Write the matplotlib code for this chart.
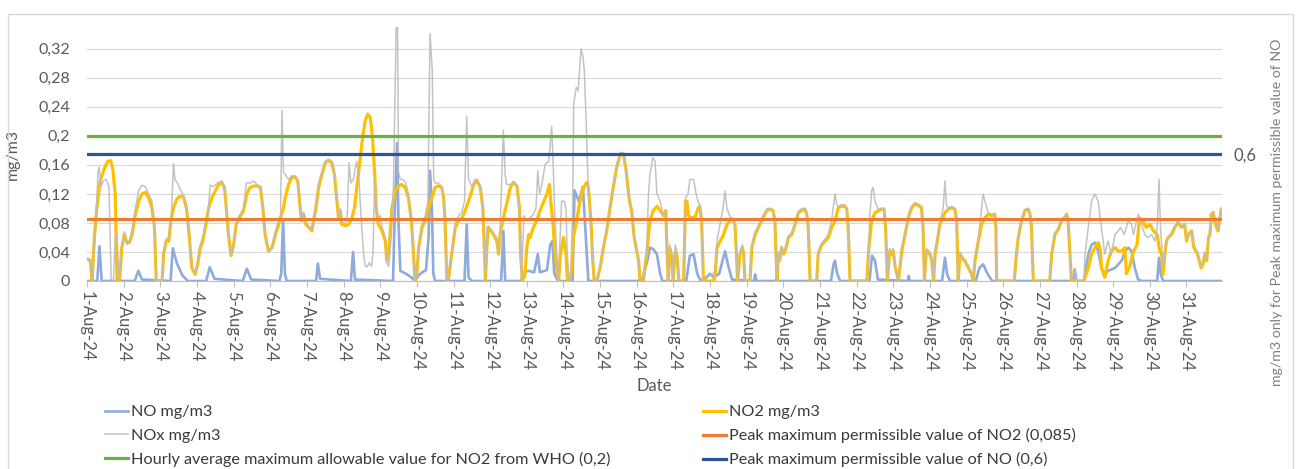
import matplotlib
matplotlib.use("Agg")
import matplotlib.pyplot as plt
from matplotlib.patches import Rectangle
from matplotlib.ticker import FuncFormatter

plt.rcParams["font.family"] = ["Lato", "DejaVu Sans"]

# x positions are in days of August 2024 (1.0 = 1-Aug 00:00)
days = list(range(1, 32))
day_labels = [f"{d}-Aug-24" for d in days]

# NO, mg/m3 (day, value)
no_pts = [
    (1.00, 0.0), (1.28, 0.0), (1.34, 0.048), (1.40, 0.0), (2.30, 0.0), (2.40, 0.014), (2.50, 0.002),
    (3.28, 0.0), (3.34, 0.045), (3.45, 0.025), (3.60, 0.008), (3.75, 0.0), (4.25, 0.0), (4.35, 0.019),
    (4.48, 0.003), (5.25, 0.0), (5.36, 0.017), (5.48, 0.002), (6.25, 0.0), (6.30, 0.010), (6.35, 0.085),
    (6.40, 0.010), (6.45, 0.0), (7.25, 0.0), (7.30, 0.024), (7.36, 0.003), (8.20, 0.0), (8.26, 0.040),
    (8.31, 0.002), (9.35, 0.0), (9.40, 0.100), (9.46, 0.190), (9.50, 0.080), (9.55, 0.014), (9.70, 0.010),
    (9.85, 0.005), (9.95, 0.0), (10.05, 0.008), (10.15, 0.012), (10.25, 0.015), (10.32, 0.060),
    (10.36, 0.152), (10.41, 0.100), (10.45, 0.010), (10.50, 0.0), (11.30, 0.0), (11.36, 0.078),
    (11.41, 0.005), (11.50, 0.0), (12.30, 0.0), (12.36, 0.069), (12.41, 0.0), (12.85, 0.0), (12.90, 0.012),
    (13.05, 0.014), (13.20, 0.012), (13.30, 0.037), (13.36, 0.012), (13.55, 0.015), (13.64, 0.050),
    (13.70, 0.055), (13.75, 0.010), (13.85, 0.0), (14.25, 0.0), (14.30, 0.125), (14.42, 0.110),
    (14.53, 0.130), (14.60, 0.070), (14.68, 0.0), (16.00, 0.0), (16.15, 0.002), (16.30, 0.030),
    (16.36, 0.046), (16.45, 0.044), (16.55, 0.037), (16.64, 0.010), (16.70, 0.0), (17.35, 0.0),
    (17.45, 0.035), (17.55, 0.037), (17.65, 0.010), (17.75, 0.0), (17.90, 0.005), (18.00, 0.010),
    (18.10, 0.005), (18.25, 0.010), (18.35, 0.030), (18.41, 0.041), (18.50, 0.020), (18.60, 0.002),
    (19.20, 0.0), (19.23, 0.009), (19.27, 0.0), (21.30, 0.0), (21.37, 0.023), (21.41, 0.028),
    (21.47, 0.010), (21.55, 0.0), (22.35, 0.0), (22.42, 0.035), (22.50, 0.028), (22.58, 0.002),
    (23.40, 0.0), (23.42, 0.007), (23.45, 0.0), (24.33, 0.0), (24.41, 0.032), (24.47, 0.009), (24.55, 0.0),
    (25.25, 0.0), (25.35, 0.018), (25.45, 0.023), (25.58, 0.009), (25.70, 0.0), (27.90, 0.0),
    (27.95, 0.016), (28.00, 0.0), (28.20, 0.0), (28.32, 0.037), (28.41, 0.050), (28.50, 0.053),
    (28.59, 0.041), (28.68, 0.018), (28.77, 0.009), (28.86, 0.014), (29.05, 0.018), (29.14, 0.023),
    (29.23, 0.028), (29.32, 0.041), (29.41, 0.046), (29.50, 0.041), (29.59, 0.018), (29.68, 0.002),
    (29.77, 0.0), (30.20, 0.0), (30.25, 0.032), (30.30, 0.009), (30.36, 0.0), (31.95, 0.0),
]

# NO2, mg/m3 (day, value)
no2_pts = [
    (1.00, 0.030), (1.09, 0.028), (1.14, 0.0), (1.20, 0.060), (1.27, 0.101), (1.36, 0.138), (1.45, 0.152),
    (1.55, 0.164), (1.64, 0.166), (1.70, 0.156), (1.77, 0.120), (1.82, 0.0), (1.89, 0.0), (1.95, 0.046),
    (2.02, 0.064), (2.09, 0.053), (2.16, 0.053), (2.23, 0.064), (2.32, 0.092), (2.41, 0.110), (2.50, 0.120),
    (2.59, 0.122), (2.68, 0.115), (2.77, 0.101), (2.84, 0.074), (2.89, 0.0), (3.05, 0.0), (3.09, 0.037),
    (3.16, 0.055), (3.23, 0.055), (3.29, 0.083), (3.36, 0.101), (3.45, 0.113), (3.55, 0.117), (3.64, 0.115),
    (3.71, 0.101), (3.77, 0.074), (3.86, 0.018), (3.95, 0.009), (4.02, 0.023), (4.09, 0.046), (4.16, 0.055),
    (4.23, 0.074), (4.32, 0.101), (4.41, 0.115), (4.50, 0.124), (4.59, 0.133), (4.68, 0.135), (4.75, 0.129),
    (4.80, 0.101), (4.86, 0.064), (4.93, 0.035), (5.00, 0.050), (5.07, 0.078), (5.16, 0.087), (5.27, 0.097),
    (5.36, 0.120), (5.45, 0.129), (5.55, 0.131), (5.64, 0.131), (5.73, 0.129), (5.80, 0.101), (5.86, 0.064),
    (5.95, 0.041), (6.05, 0.046), (6.14, 0.064), (6.23, 0.078), (6.30, 0.090), (6.36, 0.101), (6.41, 0.115),
    (6.50, 0.133), (6.59, 0.143), (6.68, 0.143), (6.75, 0.138), (6.79, 0.115), (6.85, 0.083), (6.91, 0.092),
    (6.97, 0.078), (7.05, 0.074), (7.14, 0.069), (7.18, 0.083), (7.25, 0.101), (7.32, 0.129), (7.41, 0.147),
    (7.50, 0.163), (7.59, 0.166), (7.68, 0.163), (7.75, 0.147), (7.82, 0.110), (7.86, 0.087), (7.91, 0.097),
    (7.95, 0.078), (8.05, 0.076), (8.14, 0.078), (8.23, 0.087), (8.30, 0.101), (8.36, 0.129), (8.45, 0.166),
    (8.52, 0.198), (8.59, 0.221), (8.66, 0.230), (8.73, 0.225), (8.79, 0.198), (8.85, 0.147), (8.89, 0.101),
    (8.95, 0.078), (9.05, 0.069), (9.14, 0.055), (9.18, 0.028), (9.23, 0.037), (9.32, 0.101), (9.41, 0.124),
    (9.50, 0.131), (9.59, 0.133), (9.68, 0.129), (9.77, 0.115), (9.85, 0.083), (9.91, 0.037), (9.95, 0.0),
    (10.00, 0.009), (10.05, 0.046), (10.14, 0.074), (10.23, 0.083), (10.32, 0.101), (10.41, 0.115),
    (10.50, 0.129), (10.59, 0.131), (10.68, 0.129), (10.73, 0.115), (10.77, 0.083), (10.82, 0.0),
    (10.86, 0.0), (10.95, 0.037), (11.05, 0.074), (11.14, 0.083), (11.23, 0.087), (11.32, 0.097),
    (11.41, 0.110), (11.50, 0.124), (11.55, 0.133), (11.64, 0.138), (11.73, 0.129), (11.80, 0.101),
    (11.84, 0.046), (11.87, 0.0), (11.91, 0.046), (11.95, 0.074), (12.00, 0.071), (12.09, 0.064),
    (12.18, 0.055), (12.23, 0.037), (12.27, 0.064), (12.36, 0.087), (12.45, 0.106), (12.55, 0.129),
    (12.64, 0.136), (12.73, 0.131), (12.80, 0.101), (12.83, 0.037), (12.88, 0.0), (12.95, 0.009),
    (13.00, 0.046), (13.05, 0.064), (13.09, 0.060), (13.18, 0.074), (13.27, 0.083), (13.36, 0.097),
    (13.45, 0.108), (13.55, 0.120), (13.62, 0.133), (13.66, 0.106), (13.71, 0.083), (13.77, 0.037),
    (13.84, 0.009), (13.87, 0.0), (13.92, 0.037), (14.00, 0.060), (14.07, 0.037), (14.11, 0.0),
    (14.18, 0.0), (14.23, 0.018), (14.27, 0.060), (14.36, 0.083), (14.45, 0.110), (14.55, 0.129),
    (14.64, 0.136), (14.68, 0.129), (14.75, 0.083), (14.80, 0.028), (14.84, 0.0), (14.91, 0.0),
    (15.00, 0.018), (15.09, 0.046), (15.18, 0.069), (15.27, 0.101), (15.36, 0.129), (15.45, 0.156),
    (15.55, 0.175), (15.64, 0.175), (15.71, 0.152), (15.80, 0.110), (15.86, 0.097), (15.93, 0.060),
    (16.00, 0.041), (16.05, 0.028), (16.09, 0.0), (16.18, 0.0), (16.27, 0.037), (16.36, 0.083),
    (16.45, 0.097), (16.55, 0.103), (16.64, 0.097), (16.73, 0.090), (16.79, 0.097), (16.83, 0.037),
    (16.86, 0.0), (16.90, 0.045), (16.95, 0.035), (16.99, 0.0), (17.05, 0.040), (17.10, 0.035),
    (17.15, 0.0), (17.28, 0.0), (17.33, 0.110), (17.37, 0.110), (17.41, 0.090), (17.50, 0.087),
    (17.59, 0.088), (17.68, 0.101), (17.72, 0.103), (17.77, 0.083), (17.82, 0.0), (18.10, 0.0),
    (18.14, 0.009), (18.19, 0.046), (18.28, 0.055), (18.37, 0.064), (18.46, 0.078), (18.55, 0.083),
    (18.64, 0.083), (18.68, 0.078), (18.72, 0.037), (18.75, 0.0), (18.82, 0.037), (18.88, 0.046),
    (18.92, 0.037), (18.95, 0.0), (19.09, 0.0), (19.14, 0.046), (19.23, 0.064), (19.32, 0.074),
    (19.45, 0.088), (19.55, 0.097), (19.64, 0.099), (19.72, 0.097), (19.77, 0.083), (19.80, 0.037),
    (19.83, 0.0), (19.86, 0.037), (19.90, 0.028), (19.95, 0.046), (20.00, 0.037), (20.05, 0.041),
    (20.14, 0.060), (20.23, 0.064), (20.32, 0.078), (20.41, 0.094), (20.50, 0.097), (20.59, 0.099),
    (20.64, 0.092), (20.68, 0.074), (20.73, 0.0), (20.91, 0.0), (20.95, 0.037), (21.05, 0.050),
    (21.14, 0.055), (21.23, 0.060), (21.32, 0.074), (21.41, 0.083), (21.50, 0.101), (21.59, 0.103),
    (21.68, 0.103), (21.73, 0.099), (21.77, 0.074), (21.82, 0.0), (22.28, 0.0), (22.32, 0.037),
    (22.35, 0.055), (22.41, 0.083), (22.50, 0.094), (22.59, 0.097), (22.68, 0.099), (22.75, 0.099),
    (22.79, 0.074), (22.84, 0.0), (22.90, 0.041), (22.95, 0.037), (23.00, 0.041), (23.05, 0.020),
    (23.14, 0.0), (23.23, 0.041), (23.32, 0.064), (23.41, 0.087), (23.50, 0.101), (23.59, 0.106),
    (23.68, 0.104), (23.77, 0.101), (23.81, 0.074), (23.85, 0.0), (23.90, 0.041), (24.00, 0.037),
    (24.05, 0.028), (24.10, 0.0), (24.14, 0.037), (24.20, 0.055), (24.27, 0.078), (24.41, 0.094),
    (24.50, 0.099), (24.59, 0.101), (24.68, 0.099), (24.73, 0.083), (24.77, 0.0), (24.82, 0.037),
    (24.90, 0.030), (24.95, 0.028), (25.05, 0.018), (25.14, 0.009), (25.18, 0.0), (25.23, 0.028),
    (25.32, 0.055), (25.41, 0.078), (25.50, 0.087), (25.59, 0.092), (25.68, 0.090), (25.77, 0.092),
    (25.80, 0.074), (25.82, 0.0), (26.30, 0.0), (26.36, 0.037), (26.41, 0.060), (26.50, 0.083),
    (26.59, 0.097), (26.68, 0.099), (26.73, 0.092), (26.77, 0.074), (26.82, 0.0), (27.27, 0.0),
    (27.32, 0.037), (27.41, 0.064), (27.50, 0.071), (27.59, 0.083), (27.68, 0.087), (27.73, 0.092),
    (27.77, 0.083), (27.82, 0.037), (27.86, 0.0), (28.20, 0.0), (28.32, 0.018), (28.41, 0.037),
    (28.50, 0.046), (28.59, 0.053), (28.64, 0.046), (28.68, 0.018), (28.77, 0.005), (28.86, 0.028),
    (28.95, 0.041), (29.05, 0.046), (29.14, 0.041), (29.23, 0.041), (29.32, 0.046), (29.36, 0.010),
    (29.45, 0.020), (29.55, 0.040), (29.65, 0.050), (29.72, 0.087), (29.80, 0.083), (29.90, 0.074),
    (30.00, 0.078), (30.10, 0.069), (30.20, 0.064), (30.27, 0.041), (30.32, 0.037), (30.36, 0.009),
    (30.41, 0.037), (30.45, 0.055), (30.50, 0.060), (30.59, 0.064), (30.68, 0.074), (30.77, 0.081),
    (30.86, 0.074), (30.95, 0.078), (31.00, 0.055), (31.05, 0.064), (31.14, 0.069), (31.20, 0.046),
    (31.30, 0.037), (31.40, 0.018), (31.45, 0.023), (31.50, 0.037), (31.55, 0.028), (31.60, 0.060),
    (31.64, 0.064), (31.68, 0.092), (31.73, 0.094), (31.77, 0.083), (31.82, 0.074), (31.86, 0.069),
    (31.90, 0.083), (31.95, 0.099),
]

# NOx, mg/m3 (day, value)
nox_pts = [
    (1.00, 0.032), (1.09, 0.030), (1.14, 0.0), (1.22, 0.060), (1.30, 0.150), (1.33, 0.157), (1.38, 0.130),
    (1.45, 0.138), (1.52, 0.140), (1.60, 0.130), (1.66, 0.0), (1.72, 0.0), (1.77, 0.060), (1.82, 0.065),
    (1.87, 0.0), (1.95, 0.050), (2.02, 0.068), (2.09, 0.050), (2.16, 0.055), (2.23, 0.070), (2.32, 0.100),
    (2.41, 0.125), (2.50, 0.132), (2.59, 0.130), (2.68, 0.120), (2.77, 0.110), (2.84, 0.080), (2.89, 0.0),
    (3.05, 0.0), (3.09, 0.040), (3.16, 0.058), (3.23, 0.060), (3.30, 0.090), (3.36, 0.162), (3.40, 0.140),
    (3.47, 0.135), (3.55, 0.125), (3.64, 0.118), (3.71, 0.105), (3.77, 0.080), (3.86, 0.020), (3.95, 0.010),
    (4.02, 0.028), (4.09, 0.050), (4.16, 0.060), (4.23, 0.080), (4.30, 0.090), (4.36, 0.132), (4.45, 0.130),
    (4.55, 0.135), (4.68, 0.138), (4.75, 0.130), (4.80, 0.100), (4.86, 0.065), (4.93, 0.035), (5.00, 0.050),
    (5.07, 0.080), (5.16, 0.090), (5.27, 0.100), (5.35, 0.135), (5.45, 0.135), (5.55, 0.138), (5.64, 0.133),
    (5.73, 0.130), (5.80, 0.100), (5.86, 0.065), (5.95, 0.040), (6.05, 0.045), (6.14, 0.068), (6.23, 0.085),
    (6.28, 0.090), (6.32, 0.235), (6.36, 0.150), (6.41, 0.147), (6.50, 0.140), (6.59, 0.145), (6.68, 0.145),
    (6.75, 0.140), (6.79, 0.118), (6.85, 0.085), (6.91, 0.095), (6.97, 0.080), (7.05, 0.076), (7.14, 0.072),
    (7.18, 0.085), (7.25, 0.110), (7.32, 0.135), (7.41, 0.150), (7.50, 0.165), (7.59, 0.168), (7.68, 0.165),
    (7.75, 0.150), (7.82, 0.112), (7.86, 0.090), (7.91, 0.100), (7.95, 0.080), (8.05, 0.080), (8.10, 0.090),
    (8.15, 0.163), (8.20, 0.135), (8.27, 0.140), (8.32, 0.155), (8.36, 0.165), (8.42, 0.140), (8.50, 0.070),
    (8.56, 0.030), (8.60, 0.020), (8.65, 0.020), (8.70, 0.025), (8.76, 0.020), (8.80, 0.035), (8.85, 0.140),
    (8.89, 0.100), (8.95, 0.085), (9.00, 0.090), (9.05, 0.075), (9.14, 0.060), (9.18, 0.025), (9.23, 0.020),
    (9.30, 0.060), (9.36, 0.130), (9.42, 0.300), (9.44, 0.380), (9.47, 0.380), (9.50, 0.150), (9.55, 0.140),
    (9.62, 0.140), (9.70, 0.135), (9.77, 0.120), (9.85, 0.085), (9.91, 0.040), (9.95, 0.0), (10.00, 0.010),
    (10.05, 0.050), (10.14, 0.078), (10.23, 0.090), (10.30, 0.110), (10.36, 0.341), (10.42, 0.290),
    (10.46, 0.140), (10.50, 0.135), (10.59, 0.135), (10.68, 0.130), (10.73, 0.117), (10.77, 0.085),
    (10.82, 0.0), (10.86, 0.0), (10.95, 0.040), (11.05, 0.080), (11.14, 0.090), (11.23, 0.095),
    (11.30, 0.110), (11.36, 0.227), (11.41, 0.140), (11.50, 0.130), (11.59, 0.140), (11.64, 0.140),
    (11.73, 0.132), (11.80, 0.105), (11.84, 0.050), (11.87, 0.0), (11.91, 0.074), (11.95, 0.076),
    (12.00, 0.072), (12.09, 0.066), (12.18, 0.060), (12.23, 0.040), (12.27, 0.070), (12.32, 0.147),
    (12.36, 0.208), (12.41, 0.147), (12.45, 0.133), (12.55, 0.133), (12.64, 0.136), (12.73, 0.131),
    (12.80, 0.083), (12.86, 0.0), (12.92, 0.090), (13.00, 0.083), (13.09, 0.087), (13.18, 0.092),
    (13.25, 0.100), (13.30, 0.152), (13.35, 0.120), (13.40, 0.129), (13.50, 0.161), (13.60, 0.165),
    (13.68, 0.213), (13.72, 0.160), (13.77, 0.083), (13.82, 0.040), (13.86, 0.0), (13.95, 0.110),
    (14.02, 0.110), (14.07, 0.100), (14.10, 0.040), (14.16, 0.0), (14.20, 0.0), (14.25, 0.100),
    (14.28, 0.244), (14.35, 0.267), (14.40, 0.262), (14.48, 0.320), (14.53, 0.310), (14.57, 0.290),
    (14.62, 0.220), (14.66, 0.150), (14.72, 0.100), (14.80, 0.030), (14.84, 0.0), (14.91, 0.0),
    (15.00, 0.020), (15.09, 0.050), (15.18, 0.070), (15.27, 0.103), (15.36, 0.130), (15.45, 0.158),
    (15.55, 0.177), (15.64, 0.177), (15.71, 0.155), (15.80, 0.112), (15.86, 0.100), (15.93, 0.062),
    (16.00, 0.043), (16.05, 0.030), (16.09, 0.0), (16.18, 0.0), (16.27, 0.040), (16.32, 0.120),
    (16.36, 0.147), (16.44, 0.170), (16.50, 0.165), (16.55, 0.120), (16.64, 0.110), (16.73, 0.090),
    (16.78, 0.097), (16.82, 0.040), (16.86, 0.0), (16.90, 0.050), (16.95, 0.040), (16.99, 0.0),
    (17.05, 0.050), (17.10, 0.040), (17.15, 0.0), (17.28, 0.0), (17.33, 0.115), (17.40, 0.120),
    (17.45, 0.140), (17.55, 0.140), (17.62, 0.120), (17.68, 0.108), (17.72, 0.105), (17.77, 0.085),
    (17.82, 0.0), (18.05, 0.010), (18.10, 0.010), (18.14, 0.015), (18.19, 0.055), (18.28, 0.080),
    (18.35, 0.100), (18.41, 0.124), (18.46, 0.100), (18.55, 0.088), (18.64, 0.086), (18.68, 0.080),
    (18.72, 0.040), (18.75, 0.0), (18.82, 0.040), (18.88, 0.050), (18.92, 0.040), (18.95, 0.0),
    (19.09, 0.0), (19.14, 0.050), (19.23, 0.068), (19.32, 0.076), (19.45, 0.090), (19.55, 0.100),
    (19.64, 0.100), (19.72, 0.098), (19.77, 0.085), (19.80, 0.040), (19.83, 0.0), (19.86, 0.040),
    (19.90, 0.030), (19.95, 0.048), (20.00, 0.040), (20.05, 0.045), (20.14, 0.062), (20.23, 0.067),
    (20.32, 0.080), (20.41, 0.096), (20.50, 0.100), (20.59, 0.100), (20.64, 0.093), (20.68, 0.075),
    (20.73, 0.0), (20.91, 0.0), (20.95, 0.040), (21.05, 0.052), (21.14, 0.058), (21.23, 0.065),
    (21.32, 0.085), (21.41, 0.120), (21.46, 0.105), (21.50, 0.103), (21.59, 0.105), (21.68, 0.105),
    (21.73, 0.100), (21.77, 0.075), (21.82, 0.0), (22.28, 0.0), (22.32, 0.040), (22.36, 0.090),
    (22.41, 0.125), (22.45, 0.129), (22.50, 0.110), (22.59, 0.099), (22.68, 0.100), (22.75, 0.100),
    (22.79, 0.076), (22.84, 0.0), (22.90, 0.045), (22.95, 0.040), (23.00, 0.045), (23.05, 0.020),
    (23.14, 0.0), (23.23, 0.045), (23.32, 0.066), (23.41, 0.090), (23.50, 0.103), (23.59, 0.108),
    (23.68, 0.106), (23.77, 0.103), (23.81, 0.076), (23.85, 0.0), (23.90, 0.045), (24.00, 0.040),
    (24.05, 0.030), (24.10, 0.0), (24.14, 0.040), (24.20, 0.058), (24.27, 0.080), (24.36, 0.100),
    (24.41, 0.138), (24.45, 0.105), (24.50, 0.100), (24.59, 0.103), (24.68, 0.100), (24.73, 0.085),
    (24.77, 0.0), (24.82, 0.040), (24.90, 0.032), (24.95, 0.030), (25.05, 0.020), (25.14, 0.010),
    (25.18, 0.0), (25.23, 0.030), (25.32, 0.060), (25.41, 0.100), (25.45, 0.120), (25.50, 0.110),
    (25.59, 0.094), (25.68, 0.092), (25.77, 0.093), (25.80, 0.075), (25.82, 0.0), (26.30, 0.0),
    (26.36, 0.040), (26.41, 0.062), (26.50, 0.085), (26.59, 0.098), (26.68, 0.100), (26.73, 0.093),
    (26.77, 0.075), (26.82, 0.0), (27.27, 0.0), (27.32, 0.040), (27.41, 0.066), (27.50, 0.073),
    (27.59, 0.085), (27.68, 0.089), (27.73, 0.093), (27.77, 0.085), (27.82, 0.040), (27.86, 0.0),
    (27.95, 0.015), (28.00, 0.0), (28.20, 0.0), (28.23, 0.037), (28.32, 0.074), (28.41, 0.110),
    (28.50, 0.120), (28.59, 0.110), (28.68, 0.074), (28.73, 0.055), (28.77, 0.037), (28.86, 0.055),
    (28.95, 0.037), (29.05, 0.064), (29.14, 0.069), (29.20, 0.074), (29.30, 0.064), (29.41, 0.083),
    (29.50, 0.078), (29.55, 0.064), (29.60, 0.074), (29.68, 0.092), (29.75, 0.083), (29.86, 0.064),
    (29.95, 0.060), (30.05, 0.064), (30.14, 0.055), (30.20, 0.074), (30.25, 0.140), (30.29, 0.074),
    (30.32, 0.050), (30.36, 0.020), (30.41, 0.040), (30.50, 0.060), (30.59, 0.066), (30.68, 0.076),
    (30.77, 0.082), (30.86, 0.075), (30.95, 0.078), (31.00, 0.058), (31.05, 0.066), (31.14, 0.070),
    (31.20, 0.050), (31.30, 0.040), (31.40, 0.020), (31.45, 0.025), (31.50, 0.040), (31.55, 0.030),
    (31.60, 0.062), (31.64, 0.066), (31.68, 0.094), (31.73, 0.096), (31.77, 0.085), (31.82, 0.076),
    (31.86, 0.071), (31.90, 0.085), (31.95, 0.100),
]

# limit values
no2_peak = 0.085      # left axis
who_hourly = 0.2      # left axis
no_peak = 0.6         # right axis
y_ticks = [0, 0.04, 0.08, 0.12, 0.16, 0.2, 0.24, 0.28, 0.32]

TXT = "#595959"


def comma(v, _pos=None):
    return f"{round(v, 2):g}".replace(".", ",")


fig = plt.figure(figsize=(13, 4.69), dpi=100)
ax = fig.add_axes([87 / 1300, 188 / 469, 1135 / 1300, 254 / 469])

no_x, no_y = zip(*no_pts)
no2_x, no2_y = zip(*no2_pts)
nox_x, nox_y = zip(*nox_pts)

h_no, = ax.plot(no_x, no_y, color="#8FAADC", lw=1.9, zorder=2, label="NO mg/m3")
h_no2, = ax.plot(no2_x, no2_y, color="#FFC000", lw=2.3, zorder=3, label="NO2 mg/m3")
h_nox, = ax.plot(nox_x, nox_y, color="#BDBDBD", lw=1.1, alpha=0.9, zorder=4, label="NOx mg/m3")
h_pk2 = ax.axhline(no2_peak, color="#ED7D31", lw=2.3, zorder=5,
                   label="Peak maximum permissible value of NO2 (0,085)")
h_who = ax.axhline(who_hourly, color="#70AD47", lw=2.3, zorder=5,
                   label="Hourly average maximum allowable value for NO2 from WHO (0,2)")

ax.set_xlim(1, 1 + 1135 / 36.65)
ax.set_ylim(0, 0.35)
ax.set_xticks(days)
ax.set_xticklabels(day_labels, rotation=-90)
ax.set_yticks(y_ticks)
ax.yaxis.set_major_formatter(FuncFormatter(comma))
ax.tick_params(axis="x", length=4, width=0.8, color="#BFBFBF", labelsize=12, labelcolor=TXT, pad=3)
ax.tick_params(axis="y", length=0, labelsize=11.5, labelcolor=TXT, pad=12)
ax.grid(axis="y", color="#D9D9D9", lw=0.8)
ax.set_axisbelow(True)
for s in ["top", "left", "right"]:
    ax.spines[s].set_visible(False)
ax.spines["bottom"].set_color("#BFBFBF")
ax.set_ylabel("mg/m3", fontsize=11.5, color=TXT)
ax.yaxis.set_label_coords(-0.059, 0.5)

# secondary axis only carries the NO limit
ax2 = ax.twinx()
ax2.set_ylim(0, 1.2)
h_pkno = ax2.axhline(no_peak, color="#2F5597", lw=2.3, zorder=5,
                     label="Peak maximum permissible value of NO (0,6)")
ax2.set_yticks([no_peak])
ax2.yaxis.set_major_formatter(FuncFormatter(comma))
ax2.tick_params(axis="y", length=0, labelsize=12, labelcolor=TXT, pad=8)
for s in ax2.spines.values():
    s.set_visible(False)

fig.text(654 / 1300, 1 - 386 / 469, "Date", ha="center", va="center", fontsize=12, color=TXT)
fig.text(1277 / 1300, 1 - 212 / 469, "mg/m3 only for Peak maximum permissible value of NO",
         rotation=90, ha="center", va="center", fontsize=10.2, color="#7F7F7F")

leg_kw = dict(loc="upper left", frameon=False, fontsize=11.7, handlelength=1.42, handletextpad=0.15,
              labelspacing=0.55, borderpad=0, borderaxespad=0, labelcolor="#3A3A3A")
fig.legend(handles=[h_no, h_nox, h_who], bbox_to_anchor=(105 / 1300, 1 - 405 / 469), **leg_kw)
fig.legend(handles=[h_no2, h_pk2, h_pkno], bbox_to_anchor=(703 / 1300, 1 - 405 / 469), **leg_kw)

# light chart border
fig.add_artist(Rectangle((8 / 1300, -0.02), 1285 / 1300, 1.005 - 7 / 469, transform=fig.transFigure,
                         fill=False, edgecolor="#D9D9D9", lw=1))

fig.savefig("out.png", dpi=100)
